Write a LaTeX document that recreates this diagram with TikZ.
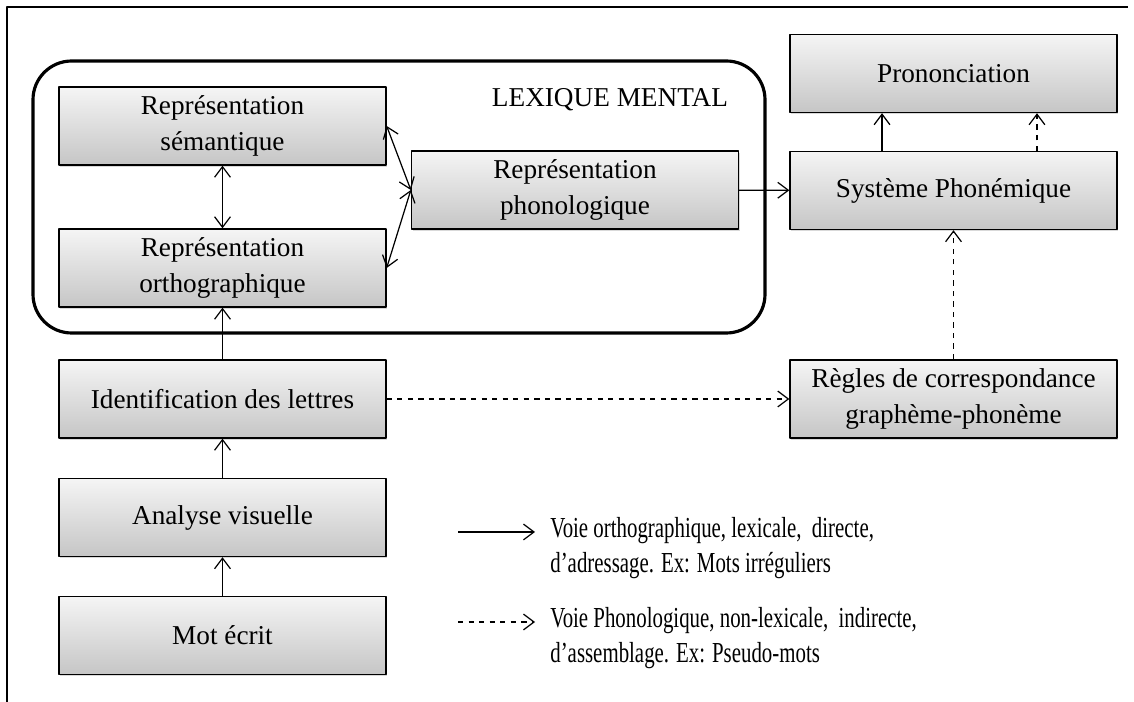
\documentclass[tikz,border=0pt]{standalone}
\usepackage{fontspec}
\setmainfont{Liberation Serif}
\newfontfamily\legendefont[FakeStretch=0.72]{Liberation Serif}
\usetikzlibrary{arrows.meta,shadows}
\tikzset{
	boite/.style={draw=black, line width=0.8pt, top color=gray!8, bottom color=gray!45,
		minimum width=6.54cm, minimum height=1.56cm, align=center, inner sep=2pt,
		drop shadow={shadow xshift=0.8pt, shadow yshift=-1pt, opacity=0.3}},
	lien/.style={line width=0.7pt},
	legende/.style={anchor=west, align=left, inner sep=0pt, font={\legendefont\fontsize{16.5}{20}\selectfont}}
}
\begin{document}
\begin{tikzpicture}[x=0.02cm, y=-0.02cm, >={Straight Barb[length=6pt,width=9pt]}, line join=round, font=\fontsize{15.5}{20}\selectfont]
	\useasboundingbox (0,0) rectangle (1134,702);
	% cadre
	\draw[line width=1.2pt] (7,702)--(7,7)--(1128,7);
	% lexique mental
	\draw[line width=1.8pt, rounded corners=22pt] (33,61) rectangle (765,333);
	\node (lex) at (610,100) {LEXIQUE MENTAL};
	% boites
	\node[boite] (sem) at (222.5,126) {Représentation\\sémantique};
	\node[boite] (orth) at (222.5,268) {Représentation\\orthographique};
	\node[boite] (phon) at (575,190) {Représentation\\phonologique};
	\node[boite] (ident) at (222.5,399) {Identification des lettres};
	\node[boite] (analyse) at (222.5,517.5) {Analyse visuelle};
	\node[boite] (mot) at (222.5,635.5) {Mot écrit};
	\node[boite] (pron) at (953.5,73.5) {Prononciation};
	\node[boite] (sys) at (953.5,190.5) {Système Phonémique};
	\node[boite] (regles) at (953.5,399) {Règles de correspondance\\graphème-phonème};
	% fleches
	\draw[lien,<->] (sem)--(orth);
	\draw[lien,<->] (sem.east)--(phon.west);
	\draw[lien,<->] (orth.east)--(phon.west);
	\draw[lien,->] (phon)--(sys);
	\foreach \a/\b in {mot/analyse,analyse/ident,ident/orth}
	\draw[lien,->] (\a)--(\b);
	\draw[lien,->,dashed] (ident)--(regles);
	\draw[lien,->,dashed] (regles)--(sys);
	\draw[lien,->] ([xshift=-1.43cm]sys.north)--([xshift=-1.43cm]pron.south);
	\draw[lien,->,dashed] ([xshift=1.67cm]sys.north)--([xshift=1.67cm]pron.south);
	% legende
	\path (458,532) coordinate (a1) (535,532) coordinate (b1)
	(458,622) coordinate (a2) (535,622) coordinate (b2);
	\draw[lien,->] (a1)--(b1);
	\draw[lien,->,dashed] (a2)--(b2);
	\node[legende] (voie1) at (550,548) {Voie orthographique, lexicale,\ \ directe,\\d’adressage. Ex: Mots irréguliers};
	\node[legende] (voie2) at (550,638) {Voie Phonologique, non-lexicale,\ \ indirecte,\\d’assemblage. Ex: Pseudo-mots};
\end{tikzpicture}
\end{document}
